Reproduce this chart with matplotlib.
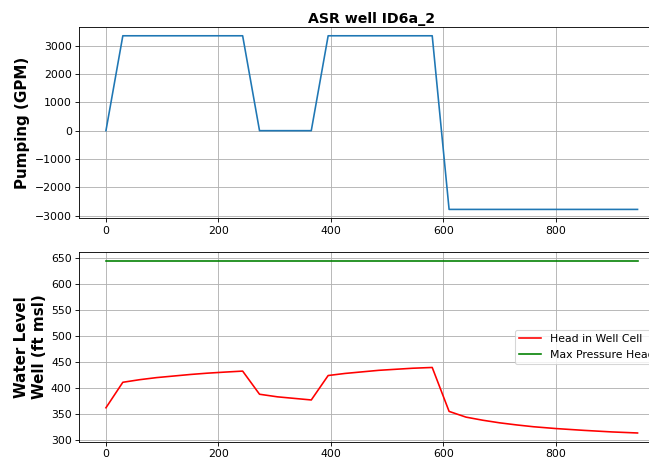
import matplotlib
matplotlib.use("Agg")
import matplotlib.pyplot as plt

# pumping schedule (days, GPM)
pump_t = [0, 30, 243, 273, 365, 395, 580, 610, 945]
pump_q = [0, 3350, 3350, 0, 0, 3350, 3350, -2780, -2780]

# simulated head in well cell (days, ft msl)
head_t = [0, 30, 60, 90, 120, 150, 180, 210, 243, 273, 305, 335, 365,
          395, 425, 455, 485, 515, 545, 580, 610, 640, 670, 700, 730,
          760, 800, 850, 900, 945]
head_h = [362, 411, 416, 420, 423, 426, 428.5, 430.5, 432.5, 388, 383, 380, 377,
          424, 428, 431, 434, 436, 438, 439.5, 355, 344, 338, 333, 329,
          325.5, 322, 318.5, 315.5, 313.5]
max_head = 645

dpi = 78
fig = plt.figure(figsize=(649 / dpi, 460 / dpi), dpi=dpi)
ax1 = fig.add_axes([0.1223, 0.5259, 0.901, 0.4152])
ax2 = fig.add_axes([0.1223, 0.040, 0.901, 0.4122])

ax1.plot(pump_t, pump_q)
ax1.set_title("ASR well ID6a_2", fontsize=13, fontweight="bold", pad=4)
ax1.set_ylabel("Pumping (GPM)", fontsize=14, fontweight="bold")
ax1.grid(True)

ax2.plot(head_t, head_h, color="red", label="Head in Well Cell")
ax2.plot([head_t[0], head_t[-1]], [max_head, max_head], color="green",
         label="Max Pressure Head")
ax2.set_ylabel("Water Level\nWell (ft msl)", fontsize=14, fontweight="bold")
ax2.grid(True)
ax2.legend(loc="center right")

fig.savefig("out.png", dpi=dpi)
